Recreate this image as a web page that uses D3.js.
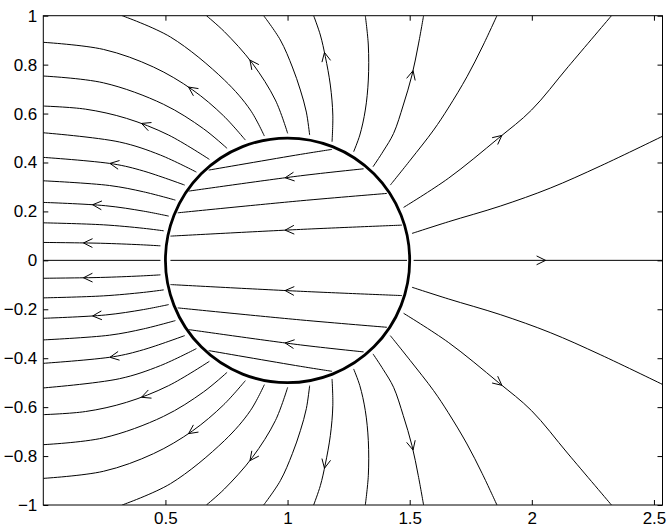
<!DOCTYPE html>
<html>
<head>
<meta charset="utf-8">
<script src="https://cdn.jsdelivr.net/npm/d3@7"></script>
<style>
  body { margin: 0; background: #fff; }
  .stream { fill: none; stroke: #000; stroke-width: 1px; }
  .arrow { fill: none; stroke: #000; stroke-width: 1px; }
  .rim { fill: none; stroke: #000; stroke-width: 2.8px; }
  .tick text { font-family: "Liberation Sans", Arial, sans-serif; font-size: 17px; fill: #000; }
</style>
</head>
<body>
<svg id="chart" width="672" height="528"></svg>
<script>
// axis setup
const xDomain = [0, 2.535];
const yDomain = [-1, 1];
const xTicks = [0.5, 1, 1.5, 2, 2.5];
const xTickLabels = ["0.5", "1", "1.5", "2", "2.5"];
const yTicks = [-1, -0.8, -0.6, -0.4, -0.2, 0, 0.2, 0.4, 0.6, 0.8, 1];
const yTickLabels = ["\u22121", "\u22120.8", "\u22120.6", "\u22120.4", "\u22120.2", "0",
                     "0.2", "0.4", "0.6", "0.8", "1"];

// cylinder
const circleCenter = [1, 0];
const circleRadius = 0.5;

// streamlines, each ordered in the direction of the flow
// outside, left of the cylinder (upper half)
const leftUpper = [
  [[0.4795,0.0593],[0.3977,0.0638],[0.234,0.0699],[0,0.0732]],
  [[0.4931,0.1207],[0.41,0.131],[0.2463,0.1452],[0,0.1534]],
  [[0.5135,0.1808],[0.41,0.2012],[0.2545,0.2233],[0,0.2368]],
  [[0.5409,0.2462],[0.41,0.2802],[0.2709,0.3059],[0,0.3252]],
  [[0.579,0.3076],[0.41,0.3652],[0.2872,0.3939],[0,0.4209]],
  [[0.6268,0.3607],[0.4795,0.4303],[0.3118,0.4838],[0,0.5215]],
  [[0.68,0.4127],[0.5123,0.5125],[0.3404,0.5804],[0.1727,0.618],[0,0.6307]],
  [[0.7525,0.4577],[0.6555,0.5382],[0.4918,0.638],[0.2463,0.7256],[0,0.7534]],
  [[0.8273,0.4916],[0.7373,0.5914],[0.6105,0.6973],[0.4509,0.7902],[0.2463,0.8622],[0,0.8912]]
];
// outside, above / right of the cylinder (upper half)
const topUpper = [
  [[0.9051,0.508],[0.8478,0.6143],[0.7414,0.737],[0.5205,0.9129],[0.3228,1.0]],
  [[1.0004,0.519],[0.9501,0.6552],[0.856,0.8053],[0.7414,0.9346],[0.6678,1.0]],
  [[1.0904,0.5121],[1.0769,0.6061],[1.0524,0.6961],[1.0196,0.7902],[0.9705,0.9006],[0.9022,1.0]],
  [[1.1821,0.4847],[1.1853,0.5939],[1.1751,0.7166],[1.1547,0.8323],[1.1342,0.9211],[1.1068,1.0]],
  [[1.2705,0.4438],[1.2958,0.5121],[1.3183,0.6143],[1.3306,0.737],[1.3306,0.8802],[1.3183,1.0]],
  [[1.3498,0.3824],[1.392,0.4466],[1.4341,0.519],[1.4738,0.6348],[1.5094,0.7575],[1.5352,0.8802],[1.5569,1.0]],
  [[1.4206,0.3076],[1.5025,0.4098],[1.5978,0.5325],[1.6579,0.6225],[1.7345,0.7505],[1.7971,0.872],[1.8572,1.0]],
  [[1.475,0.2164],[1.6579,0.335],[1.8625,0.4986],[1.9988,0.6143],[2.1489,0.7914],[2.3261,1.0]],
  [[1.5094,0.11],[1.6579,0.1575],[1.8707,0.2217],[2.0753,0.2953],[2.2799,0.3853],[2.545,0.512]]
];
// inside the cylinder (upper half)
const innerUpper = [
  [[1.4685,0.144],[1.0524,0.1264],[0.5205,0.099]],
  [[1.4071,0.2736],[1.0524,0.2434],[0.5503,0.1943]],
  [[1.3114,0.3742],[1.0524,0.3456],[0.5953,0.283]],
  [[1.1821,0.4536],[1.0524,0.4331],[0.6772,0.3689]]
];

// lower half
const leftLower = [
  [[0.4795,-0.0593],[0.3977,-0.0638],[0.234,-0.0699],[0,-0.0732]],
  [[0.4931,-0.1207],[0.41,-0.131],[0.2463,-0.1452],[0,-0.1534]],
  [[0.5135,-0.1808],[0.41,-0.2012],[0.2545,-0.2233],[0,-0.2368]],
  [[0.5409,-0.2462],[0.41,-0.2802],[0.2709,-0.3059],[0,-0.3252]],
  [[0.579,-0.3076],[0.41,-0.3652],[0.2872,-0.3939],[0,-0.4209]],
  [[0.6268,-0.3607],[0.4795,-0.4303],[0.3118,-0.4838],[0,-0.5215]],
  [[0.68,-0.4127],[0.5123,-0.5125],[0.3404,-0.5804],[0.1727,-0.618],[0,-0.6307]],
  [[0.7525,-0.4577],[0.6555,-0.5382],[0.4918,-0.638],[0.2463,-0.7256],[0,-0.7534]],
  [[0.8273,-0.4916],[0.7373,-0.5914],[0.6105,-0.6973],[0.4509,-0.7902],[0.2463,-0.8622],[0,-0.8912]]
];
const topLower = [
  [[0.9051,-0.508],[0.8478,-0.6143],[0.7414,-0.737],[0.5205,-0.9129],[0.3228,-1.0]],
  [[1.0004,-0.519],[0.9501,-0.6552],[0.856,-0.8053],[0.7414,-0.9346],[0.6678,-1.0]],
  [[1.0904,-0.5121],[1.0769,-0.6061],[1.0524,-0.6961],[1.0196,-0.7902],[0.9705,-0.9006],[0.9022,-1.0]],
  [[1.1821,-0.4847],[1.1853,-0.5939],[1.1751,-0.7166],[1.1547,-0.8323],[1.1342,-0.9211],[1.1068,-1.0]],
  [[1.2705,-0.4438],[1.2958,-0.5121],[1.3183,-0.6143],[1.3306,-0.737],[1.3306,-0.8802],[1.3183,-1.0]],
  [[1.3498,-0.3824],[1.392,-0.4466],[1.4341,-0.519],[1.4738,-0.6348],[1.5094,-0.7575],[1.5352,-0.8802],[1.5569,-1.0]],
  [[1.4206,-0.3076],[1.5025,-0.4098],[1.5978,-0.5325],[1.6579,-0.6225],[1.7345,-0.7505],[1.7971,-0.872],[1.8572,-1.0]],
  [[1.475,-0.2164],[1.6579,-0.335],[1.8625,-0.4986],[1.9988,-0.6143],[2.1489,-0.7914],[2.3261,-1.0]],
  [[1.5094,-0.11],[1.6579,-0.1575],[1.8707,-0.2217],[2.0753,-0.2953],[2.2799,-0.3853],[2.545,-0.512]]
];
const innerLower = [
  [[1.4685,-0.144],[1.0524,-0.1264],[0.5205,-0.099]],
  [[1.4071,-0.2736],[1.0524,-0.2434],[0.5503,-0.1943]],
  [[1.3114,-0.3742],[1.0524,-0.3456],[0.5953,-0.283]],
  [[1.1821,-0.4536],[1.0524,-0.4331],[0.6772,-0.3689]]
];

// the symmetry axis, split at the rim
const axisLines = [
  [[0.4795,0],[0,0]],
  [[1.489,0],[0.5205,0]],
  [[1.516,0],[2.545,0]]
];

// where the arrow heads sit
const arrowsUpper = [
  [0.182,0.0732],[0.2205,0.2327],[0.2885,0.3935],[0.4182,0.553],[0.6092,0.7031],
  [0.856,0.8053],[1.1567,0.8323],[1.5094,0.7575],[1.8638,0.4986],
  [1.0074,0.1305],[1.0074,0.3415],[2.0397,0]
];
const arrowsLower = [
  [0.182,-0.0732],[0.2205,-0.2327],[0.2885,-0.3935],[0.4182,-0.553],[0.6092,-0.7031],
  [0.856,-0.8053],[1.1567,-0.8323],[1.5094,-0.7575],[1.8638,-0.4986],
  [1.0074,-0.1305],[1.0074,-0.3415]
];

const svg = d3.select("#chart");
const x = d3.scaleLinear().domain(xDomain).range([43.3, 662.5]);
const y = d3.scaleLinear().domain(yDomain).range([505, 15.7]);

svg.append("rect").attr("width", 672).attr("height", 528).attr("fill", "#fff");

svg.append("clipPath").attr("id", "clip")
  .append("rect")
  .attr("x", x(xDomain[0])).attr("y", y(yDomain[1]))
  .attr("width", x(xDomain[1]) - x(xDomain[0]))
  .attr("height", y(yDomain[0]) - y(yDomain[1]));

const plot = svg.append("g").attr("clip-path", "url(#clip)");

const line = d3.line()
  .x(d => x(d[0]))
  .y(d => y(d[1]))
  .curve(d3.curveCatmullRom.alpha(0.5));

const streams = [].concat(leftUpper, topUpper, innerUpper,
                          leftLower, topLower, innerLower, axisLines);

const paths = plot.selectAll("path.stream")
  .data(streams)
  .join("path")
  .attr("class", "stream")
  .attr("d", line);

// arrow head: find the nearest spot on a streamline, follow its tangent
function arrowPath(pt) {
  const px = x(pt[0]), py = y(pt[1]);
  let best = { d: Infinity };
  paths.each(function () {
    const len = this.getTotalLength();
    for (let s = 0; s <= len; s += 1) {
      const p = this.getPointAtLength(s);
      const d = (p.x - px) ** 2 + (p.y - py) ** 2;
      if (d < best.d) best = { d, node: this, s, len };
    }
  });
  const a = best.node.getPointAtLength(Math.max(0, best.s - 2));
  const b = best.node.getPointAtLength(Math.min(best.len, best.s + 2));
  const c = best.node.getPointAtLength(best.s);
  let ux = b.x - a.x, uy = b.y - a.y;
  const n = Math.hypot(ux, uy) || 1;
  ux /= n; uy /= n;
  const tx = c.x + ux * 4, ty = c.y + uy * 4;
  const bx = tx - ux * 9, by = ty - uy * 9;
  const w = 4.4;
  return "M" + (bx - uy * w) + "," + (by + ux * w) +
         "L" + tx + "," + ty +
         "L" + (bx + uy * w) + "," + (by - ux * w);
}

plot.selectAll("path.arrow")
  .data(arrowsUpper.concat(arrowsLower))
  .join("path")
  .attr("class", "arrow")
  .attr("d", arrowPath);

// cylinder rim
plot.append("ellipse")
  .attr("class", "rim")
  .attr("cx", x(circleCenter[0]))
  .attr("cy", y(circleCenter[1]))
  .attr("rx", x(circleCenter[0] + circleRadius) - x(circleCenter[0]))
  .attr("ry", y(circleCenter[1]) - y(circleCenter[1] + circleRadius));

// axes, ticks pointing inward on all four sides
const tickLen = -5;
svg.append("g")
  .attr("transform", `translate(0,${y(yDomain[0])})`)
  .call(d3.axisBottom(x).tickValues(xTicks)
    .tickFormat((d, i) => xTickLabels[i])
    .tickSize(tickLen).tickPadding(7))
  .call(g => g.select(".domain").remove());

svg.append("g")
  .attr("transform", `translate(${x(xDomain[0])},0)`)
  .call(d3.axisLeft(y).tickValues(yTicks)
    .tickFormat((d, i) => yTickLabels[i])
    .tickSize(tickLen).tickPadding(6))
  .call(g => g.select(".domain").remove());

svg.append("g")
  .attr("transform", `translate(0,${y(yDomain[1])})`)
  .call(d3.axisTop(x).tickValues(xTicks).tickFormat("").tickSize(tickLen))
  .call(g => g.select(".domain").remove());

svg.append("g")
  .attr("transform", `translate(${x(xDomain[1])},0)`)
  .call(d3.axisRight(y).tickValues(yTicks).tickFormat("").tickSize(tickLen))
  .call(g => g.select(".domain").remove());

svg.append("rect")
  .attr("x", x(xDomain[0])).attr("y", y(yDomain[1]))
  .attr("width", x(xDomain[1]) - x(xDomain[0]))
  .attr("height", y(yDomain[0]) - y(yDomain[1]))
  .attr("fill", "none")
  .attr("stroke", "#000")
  .attr("stroke-width", 1);
</script>
</body>
</html>
